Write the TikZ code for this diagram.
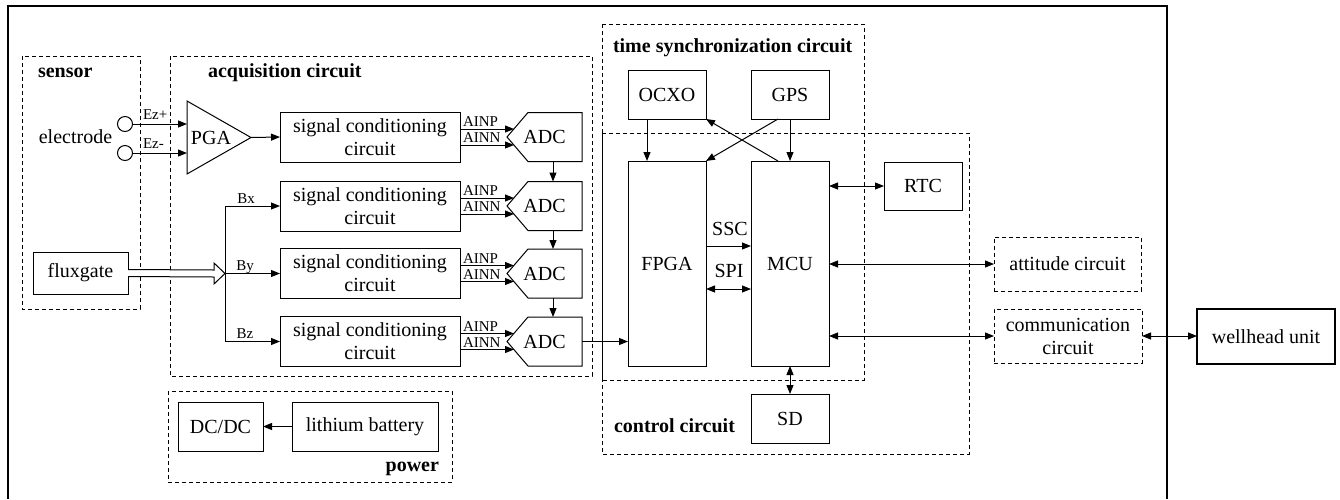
\documentclass[tikz,border=0pt]{standalone}
\usepackage{fontspec}
\setmainfont{Liberation Serif}
\usetikzlibrary{arrows.meta,calc}
\newcommand\mainfs{\fontsize{20}{23}\selectfont}
\newcommand\smallfs{\fontsize{15}{17}\selectfont}
\newcommand\titlefs{\fontsize{20}{23}\selectfont\bfseries}
\begin{document}
\begin{tikzpicture}[x=1pt,y=-1pt,
  every node/.style={inner sep=0pt,outer sep=0pt},
  lw/.style={line width=1pt},
  box/.style={draw,line width=1pt,align=center,font=\mainfs},
  grp/.style={draw,line width=1pt,dash pattern=on 4pt off 3pt},
  dbox/.style={box,dash pattern=on 4pt off 3pt},
  arr/.style={line width=1pt,-{Triangle[length=9pt,width=7pt]}},
  darr/.style={line width=1pt,{Triangle[length=9pt,width=7pt]}-{Triangle[length=9pt,width=7pt]}},
  ttl/.style={font=\titlefs,anchor=base west},
  lbl/.style={font=\smallfs,anchor=base},
  scbox/.style={box,minimum width=180,minimum height=50},
  adcbox/.style={font=\mainfs,minimum width=75,minimum height=49},
  sqbox/.style={box,minimum width=78,minimum height=49}
]
\useasboundingbox (0,0) rectangle (1340,499);
% outer frame
\draw[line width=2pt] (8,499) -- (8,6) -- (1167,6) -- (1167,499);

% group boxes
\draw[grp] (22,56) rectangle (140,309);
\node[ttl] (tsensor) at (38,77) {sensor};
\draw[grp] (170,56) rectangle (592,376);
\node[ttl] (tacq) at (208,77) {acquisition circuit};
\draw[grp] (168,391) rectangle (452,482);
\node[font=\titlefs,anchor=base east] (tpow) at (439,471) {power};
\draw[grp] (602,24) rectangle (864,380);
\node[ttl] (tts) at (613,52) {time synchronization circuit};
\draw[grp] (602,133) rectangle (969,454);
\node[ttl] (tctl) at (614,432) {control circuit};

% electrodes and PGA
\node[circle,draw,lw,minimum size=15] (e1) at (125,124) {};
\node[circle,draw,lw,minimum size=15] (e2) at (125,153) {};
\node[font=\mainfs,anchor=base] (el) at (75.5,143) {electrode};
\node[font=\mainfs] (pga) at (211,137.5) {PGA};
\coordinate (pgaT) at (187,101);
\coordinate (pgaB) at (187,174);
\coordinate (pgatip) at (251,137.5);
\draw[lw] (pgaT) -- (pgatip) -- (pgaB) -- cycle;
\draw[arr] (e1.east) -- (e1.east -| pgaT);
\draw[arr] (e2.east) -- (e2.east -| pgaT);
\node[lbl,anchor=base west] (ezp) at (143,119.5) {Ez+};
\node[lbl,anchor=base west] (ezm) at (143,148.5) {Ez-};

% signal conditioning and ADCs
\foreach \i/\y in {1/137,2/206,3/273.5,4/341.5}{
  \node[scbox] (sc\i) at (370,\y) {signal conditioning\\circuit};
  \node[adcbox] (adc\i) at (544.5,\y) {ADC};
  \draw[lw] ($(adc\i.north west)+(21,0)$) -- (adc\i.north east) -- (adc\i.south east)
     -- ($(adc\i.south west)+(21,0)$) -- (adc\i.west) -- cycle;
  \draw[arr] ($(sc\i.east)+(0,-8)$) -- ($(adc\i.west)+(7,-8)$);
  \draw[arr] ($(sc\i.east)+(0,8)$) -- ($(adc\i.west)+(7,8)$);
  \node[lbl,anchor=base west] (ainp\i) at ($(sc\i.east)+(3,-10.3)$) {AINP};
  \node[lbl,anchor=base west] (ainn\i) at ($(sc\i.east)+(3,5.7)$) {AINN};
}
\draw[arr] (pgatip) -- (sc1.west);
\foreach \a/\b in {1/2,2/3,3/4}{
  \draw[arr] ($(adc\a.south)+(8.5,0)$) -- ($(adc\b.north)+(8.5,0)$);
}

% fluxgate
\node[box,minimum width=95,minimum height=42] (flux) at (80.5,273) {fluxgate};
\coordinate (busT) at (225,206);
\coordinate (bus) at (225,273.5);
\coordinate (busB) at (225,341.5);
\draw[lw] (busT) -- (busB);
\draw[arr] (busT) -- (sc2.west);
\draw[arr] (bus) -- (sc3.west);
\draw[arr] (busB) -- (sc4.west);
\node[lbl] (bx) at (246,203) {Bx};
\node[lbl] (by) at (245,270.5) {By};
\node[lbl] (bz) at (245,338) {Bz};
\draw[lw,fill=white] ($(flux.east)+(0,-3.5)$) -- ($(bus)+(-11,-3.5)$) -- ($(bus)+(-11,-10.5)$)
   -- (bus) -- ($(bus)+(-11,10.5)$) -- ($(bus)+(-11,3.5)$) -- ($(flux.east)+(0,3.5)$);

% power
\node[box,minimum width=85,minimum height=49] (dc) at (220.5,426.5) {DC/DC};
\node[box,minimum width=146,minimum height=49] (bat) at (365,426.5) {lithium battery};
\draw[arr] (bat.west) -- (dc.east);

% time sync and control
\node[sqbox] (ocxo) at (667,94.5) {OCXO};
\node[sqbox] (gps) at (790,94.5) {GPS};
\node[box,minimum width=78,minimum height=205] (fpga) at (667,263.5) {FPGA};
\node[box,minimum width=78,minimum height=205] (mcu) at (790,263.5) {MCU};
\node[box,minimum width=78,minimum height=48] (rtc) at (923,186) {RTC};
\node[sqbox] (sd) at (790,418.5) {SD};
\draw[arr] (adc4.east) -- (adc4.east -| fpga.west);
\draw[arr] ($(ocxo.south)+(-20,0)$) -- ($(fpga.north)+(-20,0)$);
\draw[arr] (gps.south) -- (mcu.north);
\draw[arr] ($(gps.south)+(-12,0)$) -- (fpga.north east);
\draw[arr] ($(mcu.north)+(-12,0)$) -- (ocxo.south east);
\draw[arr] ($(fpga.east)+(0,-17.5)$) -- ($(mcu.west)+(0,-17.5)$);
\node[font=\mainfs,anchor=base] (ssc) at (730,235) {SSC};
\draw[darr] ($(fpga.east)+(0,25.5)$) -- ($(mcu.west)+(0,25.5)$);
\node[font=\mainfs,anchor=base] (spi) at (729,277) {SPI};
\draw[darr] (mcu.east |- rtc.west) -- (rtc.west);
\draw[darr] (mcu.south) -- (sd.north);

% right side
\node[dbox,minimum width=147,minimum height=54] (att) at (1067.5,264) {attitude circuit};
\node[dbox,minimum width=148,minimum height=54] (comm) at (1068,336) {communication\\circuit};
\node[box,line width=2pt,minimum width=138,minimum height=55] (well) at (1266,336.5) {wellhead unit};
\draw[darr] (mcu.east |- att.west) -- (att.west);
\draw[darr] (mcu.east |- comm.west) -- (comm.west);
\draw[darr] (comm.east) -- (comm.east -| well.west);
\end{tikzpicture}
\end{document}
